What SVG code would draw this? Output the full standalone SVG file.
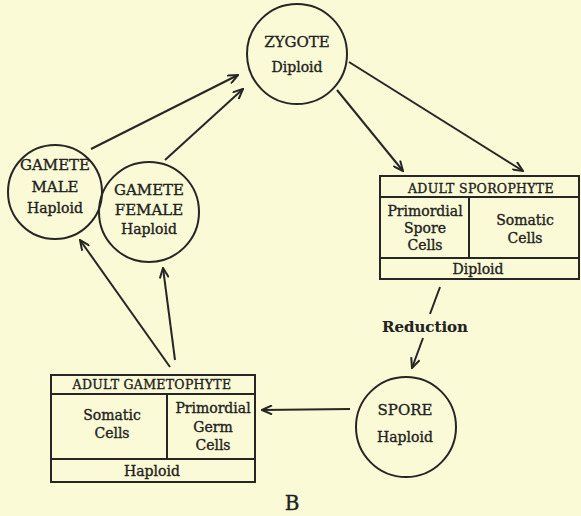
<svg xmlns="http://www.w3.org/2000/svg" width="581" height="516" viewBox="0 0 581 516">
<defs>
<style>
.bg{fill:#fafad6}
.c{fill:none;stroke:#262626;stroke-width:2}
.b{fill:none;stroke:#262626;stroke-width:2}
.l{fill:none;stroke:#262626;stroke-width:2}
text{font-family:"DejaVu Serif","Liberation Serif",serif;fill:#222;stroke:#222;stroke-width:0.35;text-anchor:middle}
.t15{font-size:15px}
.t14{font-size:14px}
.hd{font-size:12.5px;letter-spacing:0.3px}
.red{font-size:15px;font-weight:bold;stroke-width:0.1}
.big{font-size:20px}
</style>
<marker id="ah" viewBox="0 0 12 10" refX="11" refY="5" markerWidth="12" markerHeight="10" markerUnits="userSpaceOnUse" orient="auto">
<path d="M1,0.5 L11,5 L1,9.5" fill="none" stroke="#262626" stroke-width="2"/>
</marker>
</defs>
<rect class="bg" x="0" y="0" width="581" height="516"/>

<g id="zygote">
<circle class="c" cx="297" cy="54" r="50"/>
<text class="t15" x="297" y="47">ZYGOTE</text>
<text class="t14" x="297" y="72">Diploid</text>
</g>

<g id="gamete-male">
<circle class="c" cx="55" cy="192" r="47"/>
<text class="t15" x="55" y="170">GAMETE</text>
<text class="t15" x="55" y="192">MALE</text>
<text class="t14" x="55" y="213">Haploid</text>
</g>

<g id="gamete-female">
<circle class="c" cx="149" cy="212" r="50"/>
<text class="t15" x="149" y="195">GAMETE</text>
<text class="t15" x="149" y="215">FEMALE</text>
<text class="t14" x="149" y="234">Haploid</text>
</g>

<g id="adult-sporophyte">
<rect class="b" x="380" y="176" width="199" height="103"/>
<line class="b" x1="380" y1="197" x2="579" y2="197"/>
<line class="b" x1="380" y1="258" x2="579" y2="258"/>
<line class="b" x1="469" y1="197" x2="469" y2="258"/>
<text class="hd" x="481" y="193">ADULT SPOROPHYTE</text>
<text class="t14" x="425" y="216">Primordial</text>
<text class="t14" x="425" y="233">Spore</text>
<text class="t14" x="425" y="250">Cells</text>
<text class="t14" x="525" y="225">Somatic</text>
<text class="t14" x="525" y="243">Cells</text>
<text class="t14" x="478" y="274">Diploid</text>
</g>

<g id="spore">
<circle class="c" cx="406" cy="427" r="50"/>
<text class="t15" x="405" y="415">SPORE</text>
<text class="t14" x="405" y="442">Haploid</text>
</g>

<g id="adult-gametophyte">
<rect class="b" x="51" y="375" width="204" height="107"/>
<line class="b" x1="51" y1="394" x2="255" y2="394"/>
<line class="b" x1="51" y1="459" x2="255" y2="459"/>
<line class="b" x1="167" y1="394" x2="167" y2="459"/>
<text class="hd" x="152" y="389">ADULT GAMETOPHYTE</text>
<text class="t14" x="112" y="420">Somatic</text>
<text class="t14" x="112" y="438">Cells</text>
<text class="t14" x="213" y="413">Primordial</text>
<text class="t14" x="213" y="432">Germ</text>
<text class="t14" x="213" y="450">Cells</text>
<text class="t14" x="152" y="476">Haploid</text>
</g>

<g id="connectors">
<line class="l" x1="91" y1="149" x2="238" y2="75" marker-end="url(#ah)"/>
<line class="l" x1="165" y1="160" x2="243" y2="89" marker-end="url(#ah)"/>
<line class="l" x1="337" y1="90" x2="403" y2="171" marker-end="url(#ah)"/>
<line class="l" x1="349" y1="62" x2="523" y2="171" marker-end="url(#ah)"/>
<line class="l" x1="170" y1="367" x2="80" y2="240" marker-end="url(#ah)"/>
<line class="l" x1="175" y1="360" x2="163" y2="268" marker-end="url(#ah)"/>
<line class="l" x1="350" y1="409" x2="262" y2="410" marker-end="url(#ah)"/>
<line class="l" x1="440" y1="287" x2="430" y2="314"/>
<line class="l" x1="423" y1="338" x2="412" y2="368" marker-end="url(#ah)"/>
</g>

<text class="red" x="425" y="332">Reduction</text>
<text class="big" x="292" y="510">B</text>
</svg>
